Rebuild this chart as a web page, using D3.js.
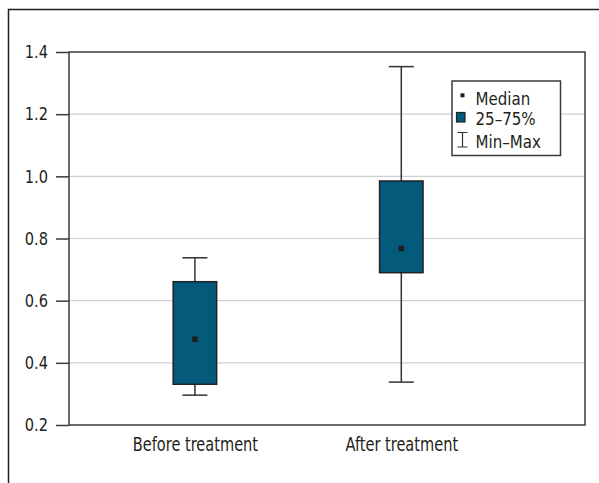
<!DOCTYPE html>
<html>
<head>
<meta charset="utf-8">
<script src="https://cdn.jsdelivr.net/npm/d3@7"></script>
<style>
  html, body { margin: 0; padding: 0; background: #fff; }
  svg { display: block; }
  text { font-family: "Liberation Sans Narrow", "DejaVu Sans Condensed", "Arial Narrow", sans-serif; fill: #231f20; }
</style>
</head>
<body>
<script>
// Box-plot data: one entry per group
const categories = ["Before treatment", "After treatment"];
const minValues    = [0.296, 0.338];
const q1Values     = [0.331, 0.690];
const medianValues = [0.476, 0.768];
const q3Values     = [0.661, 0.985];
const maxValues    = [0.738, 1.353];
const yTicks = [0.2, 0.4, 0.6, 0.8, 1.0, 1.2, 1.4];
const legendLabels = ["Median", "25\u201375%", "Min\u2013Max"];

const W = 599, H = 483;
const plot = { left: 69, right: 585, top: 52, bottom: 425 };
const boxFill = "#035a7b";
const dark = "#231f20";

// squeeze text horizontally for a narrow, condensed look
function condense(sel, f) {
  sel.each(function () {
    const w = this.getComputedTextLength();
    d3.select(this).attr("textLength", w * f).attr("lengthAdjust", "spacingAndGlyphs");
  });
}

const svg = d3.select("body").append("svg").attr("width", W).attr("height", H);

// outer frame (top and left edges)
svg.append("path")
  .attr("d", `M8.5,${H} L8.5,9.5 L${W},9.5`)
  .attr("fill", "none").attr("stroke", dark).attr("stroke-width", 1.5);

const y = d3.scaleLinear().domain([0.2, 1.4]).range([plot.bottom, plot.top]);
const x = d3.scaleLinear().domain([0.39, 2.89]).range([plot.left, plot.right]);
const xPos = i => x(i + 1);

// horizontal grid lines
svg.append("g").selectAll("line")
  .data(yTicks.filter(t => t > 0.2 && t < 1.4))
  .join("line")
  .attr("x1", plot.left).attr("x2", plot.right)
  .attr("y1", d => y(d)).attr("y2", d => y(d))
  .attr("stroke", "#cfcfcf").attr("stroke-width", 1.2);

// plot frame
svg.append("rect")
  .attr("x", plot.left).attr("y", plot.top)
  .attr("width", plot.right - plot.left).attr("height", plot.bottom - plot.top)
  .attr("fill", "none").attr("stroke", "#3a3a3a").attr("stroke-width", 1.5);

// y axis
const yAxis = svg.append("g")
  .attr("transform", `translate(${plot.left},0)`)
  .call(d3.axisLeft(y).tickValues(yTicks).tickFormat(d3.format(".1f")).tickSize(13).tickPadding(8));
yAxis.select(".domain").remove();
yAxis.selectAll(".tick line").attr("stroke", "#3a3a3a").attr("stroke-width", 1.5);
yAxis.selectAll(".tick text")
  .attr("font-size", 18).attr("fill", dark)
  .style("font-family", "'Liberation Sans Narrow', 'DejaVu Sans Condensed', sans-serif")
  .call(condense, 0.9);

// x axis labels
const xAxis = svg.append("g")
  .attr("transform", `translate(0,${plot.bottom})`)
  .call(d3.axisBottom(x).tickValues(categories.map((c, i) => i + 1))
    .tickFormat((d, i) => categories[i]).tickSize(0).tickPadding(12));
xAxis.select(".domain").remove();
xAxis.selectAll(".tick text")
  .attr("font-size", 20).attr("fill", dark)
  .style("font-family", "'Liberation Sans Narrow', 'DejaVu Sans Condensed', sans-serif")
  .call(condense, 0.81);

// boxes
const boxW = 43.5, capW = 25, medSize = 5.5;
const groups = svg.append("g").selectAll("g")
  .data(categories.map((c, i) => ({
    i, min: minValues[i], q1: q1Values[i], med: medianValues[i], q3: q3Values[i], max: maxValues[i]
  })))
  .join("g");

// whiskers
groups.append("line")
  .attr("x1", d => xPos(d.i)).attr("x2", d => xPos(d.i))
  .attr("y1", d => y(d.max)).attr("y2", d => y(d.min))
  .attr("stroke", "#333").attr("stroke-width", 1.5);
groups.selectAll(".cap")
  .data(d => [{ i: d.i, v: d.max }, { i: d.i, v: d.min }])
  .join("line").attr("class", "cap")
  .attr("x1", d => xPos(d.i) - capW / 2).attr("x2", d => xPos(d.i) + capW / 2)
  .attr("y1", d => y(d.v)).attr("y2", d => y(d.v))
  .attr("stroke", "#333").attr("stroke-width", 1.5);

// interquartile boxes
groups.append("rect")
  .attr("x", d => xPos(d.i) - boxW / 2)
  .attr("y", d => y(d.q3))
  .attr("width", boxW)
  .attr("height", d => y(d.q1) - y(d.q3))
  .attr("fill", boxFill).attr("stroke", "#222").attr("stroke-width", 1.5);

// median markers
groups.append("rect")
  .attr("x", d => xPos(d.i) - medSize / 2)
  .attr("y", d => y(d.med) - medSize / 2)
  .attr("width", medSize).attr("height", medSize)
  .attr("fill", "#1e1e1e");

// legend
const lg = svg.append("g").attr("transform", "translate(452,81)");
lg.append("rect").attr("width", 108.5).attr("height", 74.5)
  .attr("fill", "#fff").attr("stroke", "#3a3a3a").attr("stroke-width", 1.5);
const rowBase = [23.5, 43.5, 66.5];
lg.selectAll("text.lab").data(legendLabels).join("text").attr("class", "lab")
  .attr("x", 23.5).attr("y", (d, i) => rowBase[i])
  .attr("font-size", 18).text(d => d)
  .call(condense, 0.93);
// median symbol
lg.append("rect").attr("x", 8.5).attr("y", 12.3).attr("width", 4).attr("height", 4).attr("fill", "#1e1e1e");
// box symbol
lg.append("rect").attr("x", 4.5).attr("y", 31.5).attr("width", 8.5).attr("height", 9.5)
  .attr("fill", boxFill).attr("stroke", "#222").attr("stroke-width", 1.2);
// min-max symbol
lg.append("path").attr("d", "M5.5,51.5 H15.5 M10.5,51.5 V66 M5.5,66 H15.5")
  .attr("fill", "none").attr("stroke", "#333").attr("stroke-width", 1.2);
</script>
</body>
</html>
